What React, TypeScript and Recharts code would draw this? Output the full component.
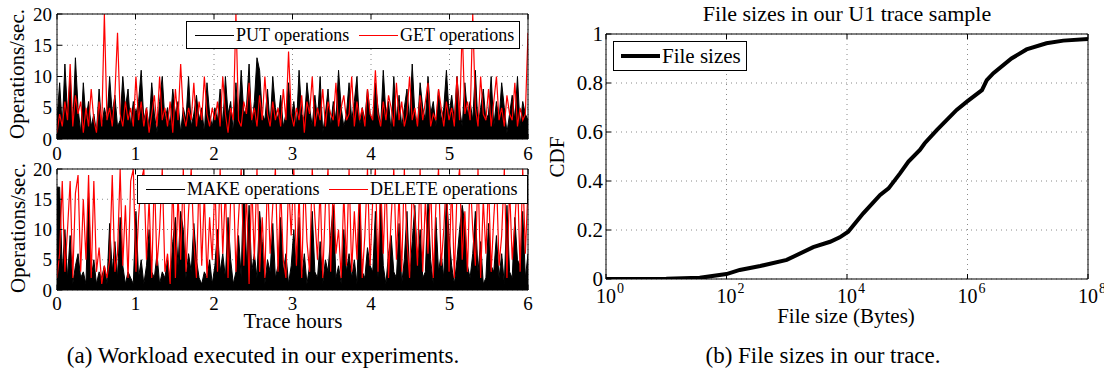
import React from 'react';
import { ComposedChart, Area, Line, LineChart, XAxis, YAxis, CartesianGrid } from 'recharts';

const FONT = "'Liberation Serif', 'Times New Roman', serif";

// workload panels: one value every 2 minutes over 6 trace hours
const hourTicks = [0, 1, 2, 3, 4, 5, 6];
const opsTicks = [0, 5, 10, 15, 20];

const putOps = [
  3, 9, 2, 12, 4, 10, 2, 13, 5, 1, 9, 3, 6, 2, 4, 1, 8, 2, 5, 3, 10, 4, 7, 2, 3, 10, 5, 8, 2, 6,
  4, 6, 11, 3, 5, 2, 9, 4, 1, 6, 10, 3, 5, 2, 8, 4, 6, 1, 5, 3, 10, 2, 4, 7, 3, 5, 1, 9, 4, 2,
  5, 3, 8, 2, 10, 4, 6, 1, 9, 3, 11, 4, 5, 12, 2, 6, 13, 11, 4, 3, 8, 2, 10, 5, 3, 7, 2, 4, 9, 3,
  6, 2, 11, 4, 3, 9, 5, 2, 7, 3, 10, 1, 4, 8, 2, 6, 3, 11, 5, 2, 4, 9, 3, 6, 10, 2, 5, 3, 8, 4,
  3, 9, 5, 2, 11, 4, 6, 1, 10, 3, 7, 2, 5, 8, 3, 12, 4, 2, 9, 5, 3, 10, 4, 6, 2, 8, 3, 5, 11, 4,
  7, 3, 10, 5, 2, 9, 4, 6, 3, 11, 2, 5, 8, 3, 4, 10, 2, 6, 3, 9, 5, 1, 4, 7, 3, 10, 2, 6, 4, 3,
];
const getOps = [
  1, 4, 2, 6, 3, 12, 2, 7, 4, 6, 1, 5, 2, 8, 3, 1, 6, 2, 20, 3, 5, 2, 7, 17, 4, 2, 6, 3, 5, 2,
  10, 3, 6, 2, 5, 1, 4, 7, 2, 10, 3, 5, 2, 6, 1, 8, 3, 12, 4, 2, 5, 3, 9, 2, 6, 3, 10, 4, 2, 5,
  3, 6, 2, 10, 4, 1, 5, 3, 20, 3, 2, 6, 4, 9, 3, 5, 2, 7, 3, 10, 4, 2, 6, 3, 5, 2, 8, 3, 14, 4,
  2, 5, 3, 7, 1, 6, 4, 10, 2, 5, 3, 8, 2, 6, 4, 3, 9, 2, 5, 7, 3, 4, 10, 2, 6, 3, 5, 2, 8, 4,
  3, 11, 4, 2, 6, 3, 7, 5, 2, 9, 3, 6, 2, 4, 10, 3, 5, 2, 7, 3, 6, 9, 2, 4, 3, 8, 5, 2, 6, 3,
  5, 2, 10, 3, 18, 4, 6, 3, 20, 5, 2, 10, 4, 3, 8, 2, 6, 10, 3, 5, 2, 7, 4, 3, 9, 2, 5, 3, 4, 17,
];
const makeOps = [
  17, 17, 3, 10, 2, 9, 1, 4, 6, 2, 3, 1, 16, 2, 5, 1, 3, 2, 4, 1, 11, 3, 8, 2, 12, 4, 1, 3, 2, 1,
  13, 2, 5, 1, 4, 10, 3, 2, 6, 1, 3, 2, 5, 1, 8, 12, 4, 13, 10, 2, 6, 3, 11, 5, 2, 1, 3, 2, 5, 1,
  4, 10, 3, 6, 2, 12, 5, 1, 3, 9, 2, 20, 4, 14, 3, 6, 2, 13, 8, 1, 5, 3, 11, 2, 4, 12, 3, 6, 1, 4,
  10, 3, 12, 2, 6, 1, 4, 13, 3, 2, 8, 1, 5, 3, 9, 14, 2, 4, 1, 10, 3, 6, 2, 5, 1, 15, 3, 2, 7, 4,
  3, 13, 2, 16, 4, 1, 6, 9, 3, 2, 11, 1, 5, 13, 2, 8, 14, 4, 10, 2, 3, 15, 5, 1, 12, 3, 6, 2, 16, 9,
  4, 1, 5, 10, 14, 11, 4, 2, 6, 13, 3, 8, 1, 2, 11, 4, 3, 9, 2, 6, 1, 14, 3, 2, 12, 5, 4, 13, 2, 6,
];
const deleteOps = [
  2, 6, 18, 3, 10, 18, 2, 16, 19, 3, 15, 5, 19, 2, 18, 3, 7, 1, 4, 2, 5, 19, 3, 6, 20, 4, 14, 2, 18, 20,
  3, 12, 18, 20, 5, 15, 2, 19, 4, 10, 20, 3, 6, 1, 18, 2, 16, 5, 20, 3, 13, 20, 8, 2, 19, 4, 16, 2, 12, 5,
  18, 3, 20, 6, 17, 2, 15, 19, 3, 12, 20, 4, 16, 1, 18, 5, 20, 3, 12, 2, 19, 6, 14, 20, 3, 17, 5, 2, 18, 9,
  20, 4, 16, 2, 19, 8, 3, 20, 12, 5, 17, 2, 14, 20, 3, 18, 6, 10, 2, 16, 4, 20, 3, 13, 5, 18, 2, 9, 20, 4,
  15, 20, 3, 18, 6, 19, 2, 12, 20, 5, 16, 3, 20, 8, 2, 17, 12, 4, 20, 3, 15, 6, 18, 2, 14, 20, 4, 10, 19, 3,
  18, 2, 16, 20, 5, 13, 3, 19, 10, 4, 20, 2, 15, 6, 18, 3, 12, 19, 4, 9, 20, 2, 17, 5, 11, 19, 3, 20, 6, 17,
];

// file size CDF
const sizeBytes = [
  1, 10, 36, 100, 166, 363, 1000, 2754, 5248, 7586, 10471, 18621, 35481, 48978, 75858,
  104713, 162181, 194984, 309030, 660693, 977237, 1737801, 2089296, 2691535, 5370318,
  9549926, 20417379, 38904514, 100000000,
];
const sizeCdf = [
  0, 0.001, 0.005, 0.02, 0.037, 0.053, 0.078, 0.13, 0.152, 0.17, 0.193, 0.268, 0.343, 0.37, 0.431,
  0.479, 0.527, 0.554, 0.608, 0.69, 0.724, 0.771, 0.812, 0.84, 0.9,
  0.937, 0.962, 0.973, 0.98,
];
const sizeTicks = [1, 100, 10000, 1000000, 100000000];
const cdfTicks = [0, 0.2, 0.4, 0.6, 0.8, 1];

const toRows = (black: number[], red: number[]) =>
  black.map((v, i) => ({ t: (i * 6) / (black.length - 1), black: v, red: red[i] }));

const topRows = toRows(putOps, getOps);
const bottomRows = toRows(makeOps, deleteOps);
const cdfRows = sizeBytes.map((s, i) => ({ size: s, cdf: sizeCdf[i] }));

const tickFont = { fill: '#000', fontSize: 19, fontFamily: FONT };
const noLabel = () => '';

function Text({ x, y, size, rotate, children }: any) {
  return (
    <div
      style={{
        position: 'absolute',
        left: x,
        top: y,
        transform: `translate(-50%, -50%)${rotate ? ' rotate(-90deg)' : ''}`,
        fontFamily: FONT,
        fontSize: size,
        lineHeight: 1,
        whiteSpace: 'nowrap',
        color: '#000',
      }}
    >
      {children}
    </div>
  );
}

function LegendBox({ left, top, width, height, items, fontSize, lineWidth }: any) {
  return (
    <div
      style={{
        position: 'absolute',
        left,
        top,
        width,
        height,
        boxSizing: 'border-box',
        border: '1px solid #000',
        background: '#fff',
        fontFamily: FONT,
        fontSize,
      }}
    >
      {items.map((it: any) => (
        <React.Fragment key={it.label}>
          <div
            style={{
              position: 'absolute',
              left: it.x,
              top: height / 2 - 1 - lineWidth / 2,
              width: 39,
              height: lineWidth,
              background: it.color,
            }}
          />
          <div style={{ position: 'absolute', left: it.x + 41, top: 0, lineHeight: `${height - 2}px`, whiteSpace: 'nowrap' }}>
            {it.label}
          </div>
        </React.Fragment>
      ))}
    </div>
  );
}

function OpsPanel({ rows, top, height, tickMargin }: any) {
  return (
    <div style={{ position: 'absolute', left: 0, top }}>
      <ComposedChart width={545} height={height} data={rows} margin={{ top: 13, right: 16, bottom: 0, left: 0 }}>
        <CartesianGrid stroke="#8a8a8a" strokeDasharray="1 4" />
        <XAxis
          dataKey="t"
          type="number"
          domain={[0, 6]}
          ticks={hourTicks}
          interval={0}
          height={25}
          stroke="#000"
          tickSize={-5}
          tickMargin={tickMargin}
          tick={tickFont}
          allowDataOverflow
        />
        <XAxis
          xAxisId="top"
          orientation="top"
          dataKey="t"
          type="number"
          domain={[0, 6]}
          ticks={hourTicks}
          interval={0}
          height={1}
          stroke="#000"
          tickSize={-5}
          tickFormatter={noLabel}
        />
        <YAxis
          type="number"
          domain={[0, 20]}
          ticks={opsTicks}
          interval={0}
          width={57}
          stroke="#000"
          tickSize={-5}
          tickMargin={10}
          tick={tickFont}
          allowDataOverflow
        />
        <YAxis
          yAxisId="right"
          orientation="right"
          type="number"
          domain={[0, 20]}
          ticks={opsTicks}
          interval={0}
          width={1}
          stroke="#000"
          tickSize={-5}
          tickFormatter={noLabel}
        />
        <Line dataKey="red" type="linear" stroke="#ff0000" strokeWidth={1.2} dot={false} activeDot={false} isAnimationActive={false} />
        <Area dataKey="black" type="linear" stroke="#000" fill="#000" fillOpacity={1} strokeWidth={1} dot={false} activeDot={false} isAnimationActive={false} />
      </ComposedChart>
    </div>
  );
}

function PowTick({ x, y, payload }: any) {
  const exp = Math.round(Math.log10(payload.value));
  return (
    <g>
      <text x={x} y={y} dy="0.71em" textAnchor="middle" fontSize={20} fontFamily={FONT} fill="#000">
        10
      </text>
      <text x={x + 11} y={y} dy="0.3em" textAnchor="start" fontSize={14} fontFamily={FONT} fill="#000">
        {exp}
      </text>
    </g>
  );
}

export default function App() {
  return (
    <div style={{ position: 'absolute', left: 0, top: 0, width: 1104, height: 376, background: '#fff', overflow: 'hidden' }}>
      <OpsPanel rows={topRows} top={0} height={164} tickMargin={13} />
      <OpsPanel rows={bottomRows} top={155} height={160} tickMargin={12} />

      <LegendBox
        left={186}
        top={21}
        width={334}
        height={28}
        fontSize={18}
        lineWidth={1}
        items={[
          { label: 'PUT operations', color: '#000', x: 8 },
          { label: 'GET operations', color: '#ff0000', x: 172 },
        ]}
      />
      <LegendBox
        left={137}
        top={175}
        width={391}
        height={29}
        fontSize={18}
        lineWidth={1}
        items={[
          { label: 'MAKE operations', color: '#000', x: 8 },
          { label: 'DELETE operations', color: '#ff0000', x: 191 },
        ]}
      />

      <Text x={17} y={74} size={21} rotate>Operations/sec.</Text>
      <Text x={18} y={228} size={21} rotate>Operations/sec.</Text>
      <Text x={293} y={321} size={21}>Trace hours</Text>

      <div style={{ position: 'absolute', left: 540, top: 0 }}>
        <LineChart width={564} height={320} data={cdfRows} margin={{ top: 33, right: 15, bottom: 0, left: 0 }}>
          <CartesianGrid stroke="#8a8a8a" strokeDasharray="1 4" />
          <XAxis
            dataKey="size"
            type="number"
            scale="log"
            domain={[1, 100000000]}
            ticks={sizeTicks}
            interval={0}
            height={41}
            stroke="#000"
            tickSize={-5}
            tickMargin={15}
            tick={<PowTick />}
            allowDataOverflow
          />
          <XAxis
            xAxisId="top"
            orientation="top"
            dataKey="size"
            type="number"
            scale="log"
            domain={[1, 100000000]}
            ticks={sizeTicks}
            interval={0}
            height={1}
            stroke="#000"
            tickSize={-5}
            tickFormatter={noLabel}
            allowDataOverflow
          />
          <YAxis
            type="number"
            domain={[0, 1]}
            ticks={cdfTicks}
            interval={0}
            width={66}
            stroke="#000"
            tickSize={-5}
            tickMargin={8}
            tick={{ fill: '#000', fontSize: 21, fontFamily: FONT }}
            allowDataOverflow
          />
          <YAxis
            yAxisId="right"
            orientation="right"
            type="number"
            domain={[0, 1]}
            ticks={cdfTicks}
            interval={0}
            width={1}
            stroke="#000"
            tickSize={-5}
            tickFormatter={noLabel}
          />
          <Line dataKey="cdf" type="linear" stroke="#000" strokeWidth={4} dot={false} activeDot={false} isAnimationActive={false} />
        </LineChart>
      </div>

      <LegendBox
        left={613}
        top={41}
        width={134}
        height={30}
        fontSize={21}
        lineWidth={4}
        items={[{ label: 'File sizes', color: '#000', x: 7 }]}
      />

      <Text x={847} y={14} size={22}>File sizes in our U1 trace sample</Text>
      <Text x={557} y={157} size={21} rotate>CDF</Text>
      <Text x={846} y={316} size={21}>File size (Bytes)</Text>

      <Text x={263} y={355} size={23}>(a) Workload executed in our experiments.</Text>
      <Text x={823} y={355} size={23}>(b) File sizes in our trace.</Text>
    </div>
  );
}
